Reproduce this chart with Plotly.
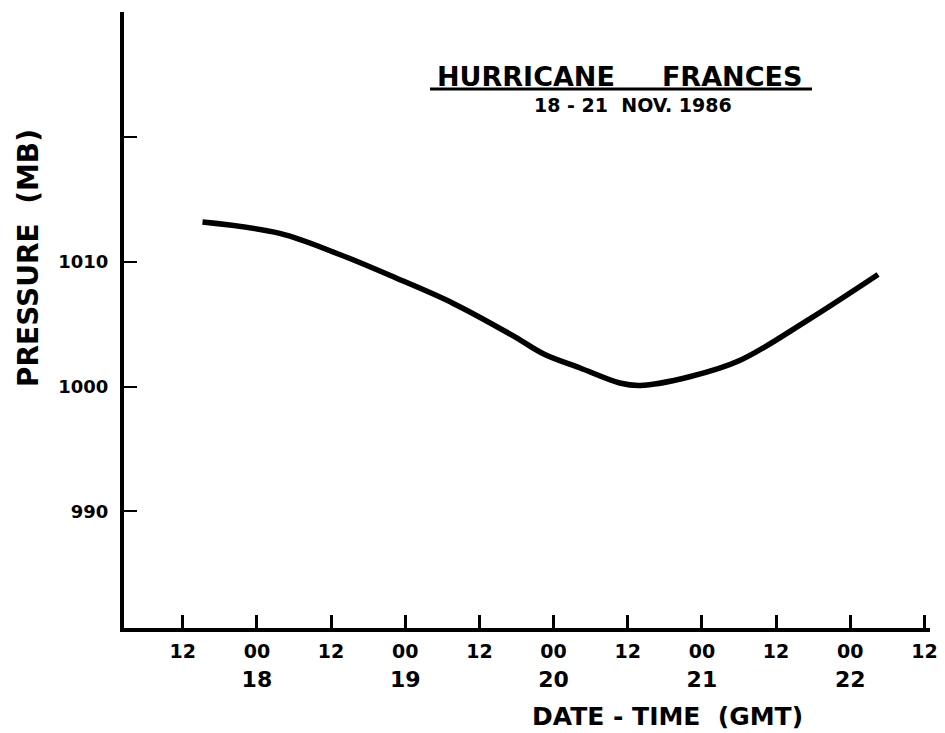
import plotly.graph_objects as go

# Hours relative to 18 Nov 00 GMT
hours = [-8.8, 3.7, 13.4, 22.6, 31.7, 41.4, 46.5, 52.3, 58.7, 62.0, 70.0, 78.1, 89.0, 100.5]
pressure = [1013.2, 1012.3, 1010.6, 1008.7, 1006.7, 1004.1, 1002.6, 1001.5, 1000.3, 1000.1, 1000.8, 1002.1, 1005.3, 1009.0]

x_tickvals = [-12, 0, 12, 24, 36, 48, 60, 72, 84, 96, 108]
x_hour_text = ["12", "00", "12", "00", "12", "00", "12", "00", "12", "00", "12"]
x_date_text = ["", "18", "", "19", "", "20", "", "21", "", "22", ""]
y_tickvals = [990, 1000, 1010, 1020, 1030]
y_ticktext = ["990", "1000", "1010", "", ""]

x_ticktext = [
    f"<span style='font-size:19px'>{h}</span>" + (f"<br>{d}" if d else "")
    for h, d in zip(x_hour_text, x_date_text)
]

W, H = 945, 733
OFF = 8  # default body margin of the page
L, R, T, B = 116, 23, 4, 113
FONT = "DejaVu Sans"

def px(sx):
    return (sx - OFF - L) / (W - L - R)

def py(sy):
    return 1 - (sy - OFF - T) / (H - T - B)

fig = go.Figure()
fig.add_trace(go.Scatter(
    x=hours, y=pressure, mode="lines",
    line=dict(color="black", width=5.5, shape="spline", smoothing=1.0),
    showlegend=False, hoverinfo="skip",
))

fig.update_layout(
    width=W, height=H,
    margin=dict(l=L, r=R, t=T, b=B, pad=0),
    paper_bgcolor="white", plot_bgcolor="white",
    font=dict(family=FONT, color="black", weight="bold"),
    xaxis=dict(
        range=[-21.5, 108.9], showgrid=False, zeroline=False,
        showline=True, linecolor="black", linewidth=4,
        ticks="inside", ticklen=13, tickwidth=3, tickcolor="black",
        tickvals=x_tickvals, ticktext=x_ticktext,
        tickfont=dict(size=22, family=FONT, weight="bold"), ticklabelstandoff=0,
    ),
    yaxis=dict(
        range=[980.65, 1030.05], showgrid=False, zeroline=False,
        showline=True, linecolor="black", linewidth=4,
        ticks="inside", ticklen=13, tickwidth=2, tickcolor="black",
        tickvals=y_tickvals, ticktext=y_ticktext,
        tickfont=dict(size=18, family=FONT, weight="bold"), ticklabelstandoff=8,
    ),
)

ann = dict(xref="paper", yref="paper", showarrow=False,
           xanchor="center", yanchor="middle")
fig.add_annotation(text="HURRICANE     FRANCES", x=px(619), y=py(76),
                   font=dict(size=27, family=FONT, weight="bold"), **ann)
fig.add_shape(type="line", xref="paper", yref="paper",
              x0=px(430), x1=px(812), y0=py(89), y1=py(89),
              line=dict(color="black", width=3))
fig.add_annotation(text="18 - 21  NOV. 1986", x=px(633), y=py(105),
                   font=dict(size=19, family=FONT, weight="bold"), **ann)
fig.add_annotation(text="PRESSURE  (MB)", x=px(28), y=py(258), textangle=-90,
                   font=dict(size=28, family=FONT, weight="bold"), **ann)
fig.add_annotation(text="DATE - TIME  (GMT)", x=px(667), y=py(716),
                   font=dict(size=25, family=FONT, weight="bold"), **ann)

fig.write_html("out.html")
